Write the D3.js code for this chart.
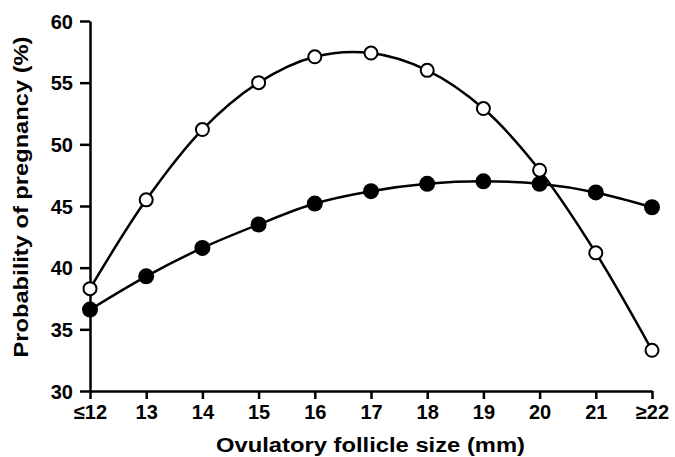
<!DOCTYPE html>
<html>
<head>
<meta charset="utf-8">
<script src="https://cdn.jsdelivr.net/npm/d3@7"></script>
<style>
  body { margin: 0; background: #fff; }
  text { font-family: "Liberation Sans", Arial, sans-serif; font-weight: bold; }
</style>
</head>
<body>
<svg id="chart"></svg>
<script>
const WIDTH = 675;
const HEIGHT = 457;
const LEFT = 90, RIGHT = 652, TOP = 21, BOTTOM = 391;

const sizes = [12, 13, 14, 15, 16, 17, 18, 19, 20, 21, 22];
const sizeLabels = ["≤12", "13", "14", "15", "16", "17", "18", "19", "20", "21", "≥22"];
const openValues = [38.3, 45.5, 51.2, 55.0, 57.1, 57.4, 56.0, 52.9, 47.9, 41.2, 33.3];
const filledValues = [36.6, 39.3, 41.6, 43.5, 45.2, 46.2, 46.8, 47.0, 46.8, 46.1, 44.9];
const yTicks = [30, 35, 40, 45, 50, 55, 60];

const svg = d3.select('#chart').attr('width', WIDTH).attr('height', HEIGHT);

const x = d3.scaleLinear().domain([12, 22]).range([LEFT, RIGHT]);
const y = d3.scaleLinear().domain([30, 60]).range([BOTTOM, TOP]);

// axes
const xAxis = svg.append('g')
    .attr('transform', `translate(0, ${BOTTOM})`)
    .call(d3.axisBottom(x).tickValues(sizes).tickFormat((d, i) => sizeLabels[i]).tickSize(8).tickSizeOuter(0));
const yAxis = svg.append('g')
    .attr('transform', `translate(${LEFT}, 0)`)
    .call(d3.axisLeft(y).tickValues(yTicks).tickSize(10).tickSizeOuter(0));

[xAxis, yAxis].forEach(a => {
    a.select('.domain').attr('stroke', '#000').attr('stroke-width', 2.5);
    a.selectAll('.tick line').attr('stroke', '#000').attr('stroke-width', 2.5);
    a.selectAll('.tick text').attr('fill', '#000').style('font-size', '20px').style('font-weight', 'bold');
});
xAxis.selectAll('.tick text').attr('y', 14).attr('dy', '0.71em');
yAxis.selectAll('.tick text').attr('x', -17).attr('dy', '0.36em');

// curves
const line = d3.line()
    .x((d, i) => x(sizes[i]))
    .y(d => y(d))
    .curve(d3.curveCatmullRom.alpha(0.5));

[openValues, filledValues].forEach(vals => {
    svg.append('path')
        .datum(vals)
        .attr('fill', 'none')
        .attr('stroke', '#000')
        .attr('stroke-width', 2.5)
        .attr('d', line);
});

svg.append('g').selectAll('circle')
    .data(filledValues)
    .join('circle')
    .attr('cx', (d, i) => x(sizes[i]))
    .attr('cy', d => y(d))
    .attr('r', 8)
    .attr('fill', '#000');

svg.append('g').selectAll('circle')
    .data(openValues)
    .join('circle')
    .attr('cx', (d, i) => x(sizes[i]))
    .attr('cy', d => y(d))
    .attr('r', 6.5)
    .attr('fill', '#fff')
    .attr('stroke', '#000')
    .attr('stroke-width', 2);

// titles
svg.append('text')
    .attr('x', 370.5)
    .attr('y', 452)
    .attr('text-anchor', 'middle')
    .attr('textLength', 309)
    .attr('lengthAdjust', 'spacingAndGlyphs')
    .style('font-size', '20px')
    .text('Ovulatory follicle size (mm)');

svg.append('text')
    .attr('transform', 'translate(28, 197) rotate(-90)')
    .attr('text-anchor', 'middle')
    .attr('textLength', 321)
    .attr('lengthAdjust', 'spacingAndGlyphs')
    .style('font-size', '20px')
    .text('Probability of pregnancy (%)');
</script>
</body>
</html>
